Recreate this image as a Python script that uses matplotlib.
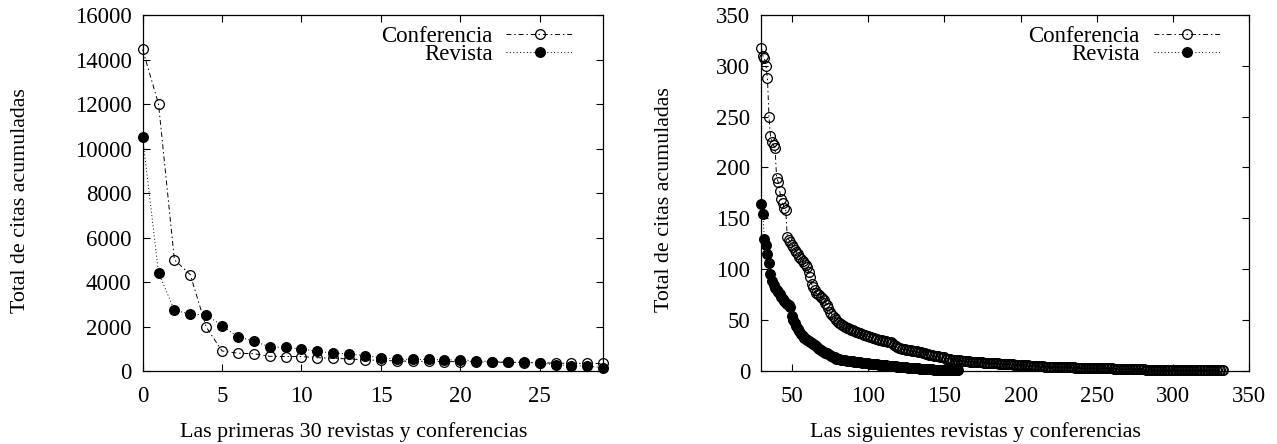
import numpy as np
import matplotlib
matplotlib.use("Agg")
from matplotlib import pyplot as plt

plt.rcParams['font.family'] = ['Liberation Serif', 'DejaVu Serif']

# primeras 30 (indices 0..29)
conf_top = [14450, 12000, 5000, 4330, 1980, 900, 800, 780, 660, 650,
            650, 600, 570, 540, 500, 480, 450, 440, 430, 420,
            420, 410, 400, 390, 380, 370, 350, 345, 340, 340]
rev_top = [10500, 4420, 2730, 2560, 2520, 2040, 1530, 1350, 1080, 1060,
           990, 880, 810, 760, 690, 600, 540, 520, 520, 500,
           490, 470, 420, 400, 390, 360, 280, 240, 220, 150]

# siguientes (desde el indice 30)
conf_rest = [318, 310, 308, 300, 288, 250, 231, 225, 222, 219,
             190, 186, 177, 169, 165, 160, 158, 132, 129, 127,
             124, 122, 119, 117, 115, 112, 110, 108, 106, 104,
             102, 97, 92, 85, 82, 79, 76, 75, 74, 73,
             72, 70, 67, 65, 62, 58, 56, 54, 52, 50,
             48, 47, 46, 45, 44, 43, 42, 42, 41, 40,
             40, 39, 38, 38, 37, 37, 36, 35, 35, 34,
             34, 33, 33, 32, 32, 31, 31, 30, 30, 30,
             29, 29, 29, 28, 28, 28, 27, 25, 24, 23,
             22, 22, 21, 21, 21, 20, 20, 20, 20, 19,
             19, 19, 19, 18, 18, 18, 17, 17, 16, 16,
             15, 15, 15, 14, 14, 14, 14, 13, 13, 13,
             13, 12, 12, 12, 12, 11, 11, 11, 11, 11,
             11, 10, 10, 10, 10, 10, 10, 9, 9, 9,
             9, 9, 9, 9, 9, 9, 8, 8, 8, 8,
             8, 8, 8, 8, 8, 8, 7, 7, 7, 7,
             7, 7, 7, 7, 7, 7, 6, 6, 6, 6,
             6, 6, 6, 6, 6, 6, 5, 5, 5, 5,
             5, 5, 5, 5, 5, 5, 4, 4, 4, 4,
             4, 4, 4, 4, 4, 4, 4, 4, 4, 4,
             4, 4, 4, 4, 4, 4, 3, 3, 3, 3,
             3, 3, 3, 3, 3, 3, 3, 3, 3, 3,
             3, 3, 3, 3, 3, 3, 3, 3, 3, 3,
             3, 2, 2, 2, 2, 2, 2, 2, 2, 2,
             2, 2, 2, 2, 2, 2, 2, 2, 2, 2,
             2, 2, 1, 1, 1, 1, 1, 1, 1, 1,
             1, 1, 1, 1, 1, 1, 1, 1, 1, 1,
             1, 1, 1, 1, 1, 1, 1, 1, 1, 1,
             1, 1, 1, 1, 1, 1, 1, 1, 1, 1,
             1, 1, 1, 1, 1, 1, 1, 1, 1, 1,
             1, 1, 1, 1]
rev_rest = [164, 154, 130, 124, 115, 106, 95, 88, 84, 81,
            79, 77, 75, 73, 71, 69, 67, 66, 65, 63,
            54, 50, 47, 44, 41, 39, 36, 34, 32, 31,
            30, 29, 28, 27, 26, 25, 24, 22, 21, 20,
            19, 18, 17, 17, 16, 15, 14, 13, 13, 12,
            12, 12, 11, 11, 11, 11, 10, 10, 10, 10,
            10, 9, 9, 9, 9, 9, 8, 8, 8, 8,
            8, 7, 7, 7, 7, 7, 7, 6, 6, 6,
            6, 6, 6, 5, 5, 5, 5, 5, 5, 4,
            4, 4, 4, 4, 4, 4, 3, 3, 3, 3,
            3, 3, 3, 3, 2, 2, 2, 2, 2, 2,
            2, 2, 2, 1, 1, 1, 1, 1, 1, 1,
            1, 1, 1, 1, 1, 1, 1, 1, 1, 1]

FS = 15.8
TS = 16.5
conf_style = dict(color='black', lw=0.7, dashes=(5, 3, 1.5, 3), marker='o', ms=7,
                  mfc='none', mec='black', mew=0.9, clip_on=False)
rev_style = dict(color='black', lw=0.7, dashes=(1, 2.5), marker='o', ms=7,
                 mfc='black', mec='black', mew=0.9, clip_on=False)

fig = plt.figure(figsize=(12.77, 4.44), dpi=100)
ax1 = fig.add_axes([0.1117, 0.1644, 0.3607, 0.8018])
ax2 = fig.add_axes([0.5962, 0.1651, 0.3821, 0.8011])

x_top = np.arange(len(conf_top))
ax1.plot(x_top, conf_top, label='Conferencia', **conf_style)
ax1.plot(x_top, rev_top, label='Revista', **rev_style)
ax1.set_xlim(0, 29)
ax1.set_ylim(0, 16000)
ax1.set_xticks([0, 5, 10, 15, 20, 25])
ax1.set_yticks(range(0, 16001, 2000))
ax1.set_xlabel('Las primeras 30 revistas y conferencias', fontsize=FS)
ax1.set_ylabel('Total de citas acumuladas', fontsize=FS)
ax1.xaxis.set_label_coords(0.459, -0.172)
ax1.yaxis.set_label_coords(-0.265, 0.48)

ax2.plot(np.arange(30, 30 + len(conf_rest)), conf_rest, label='Conferencia', **conf_style)
ax2.plot(np.arange(30, 30 + len(rev_rest)), rev_rest, label='Revista', **rev_style)
ax2.set_xlim(30, 350)
ax2.set_ylim(0, 350)
ax2.set_xticks(range(50, 351, 50))
ax2.set_yticks(range(0, 351, 50))
ax2.set_xlabel('Las siguientes revistas y conferencias', fontsize=FS)
ax2.set_ylabel('Total de citas acumuladas', fontsize=FS)
ax2.xaxis.set_label_coords(0.438, -0.172)
ax2.yaxis.set_label_coords(-0.198, 0.48)

for ax, bx in ((ax1, 0.934), (ax2, 0.94)):
    ax.xaxis.label.set_va('center')
    ax.yaxis.label.set_va('center')
    ax.tick_params(direction='in', top=True, right=True, length=5, width=0.8,
                   labelsize=TS, pad=8)
    ax.tick_params(axis='x', pad=11)
    for s in ax.spines.values():
        s.set_linewidth(0.9)
    # con markerfirst=False el texto queda alineado a la derecha
    ax.legend(loc='upper right', bbox_to_anchor=(bx, 0.97), frameon=False,
              markerfirst=False, numpoints=1, handlelength=2.9,
              handletextpad=0.6, labelspacing=-0.1, borderpad=0,
              borderaxespad=0, fontsize=TS)

fig.savefig('out.png', dpi=100)
